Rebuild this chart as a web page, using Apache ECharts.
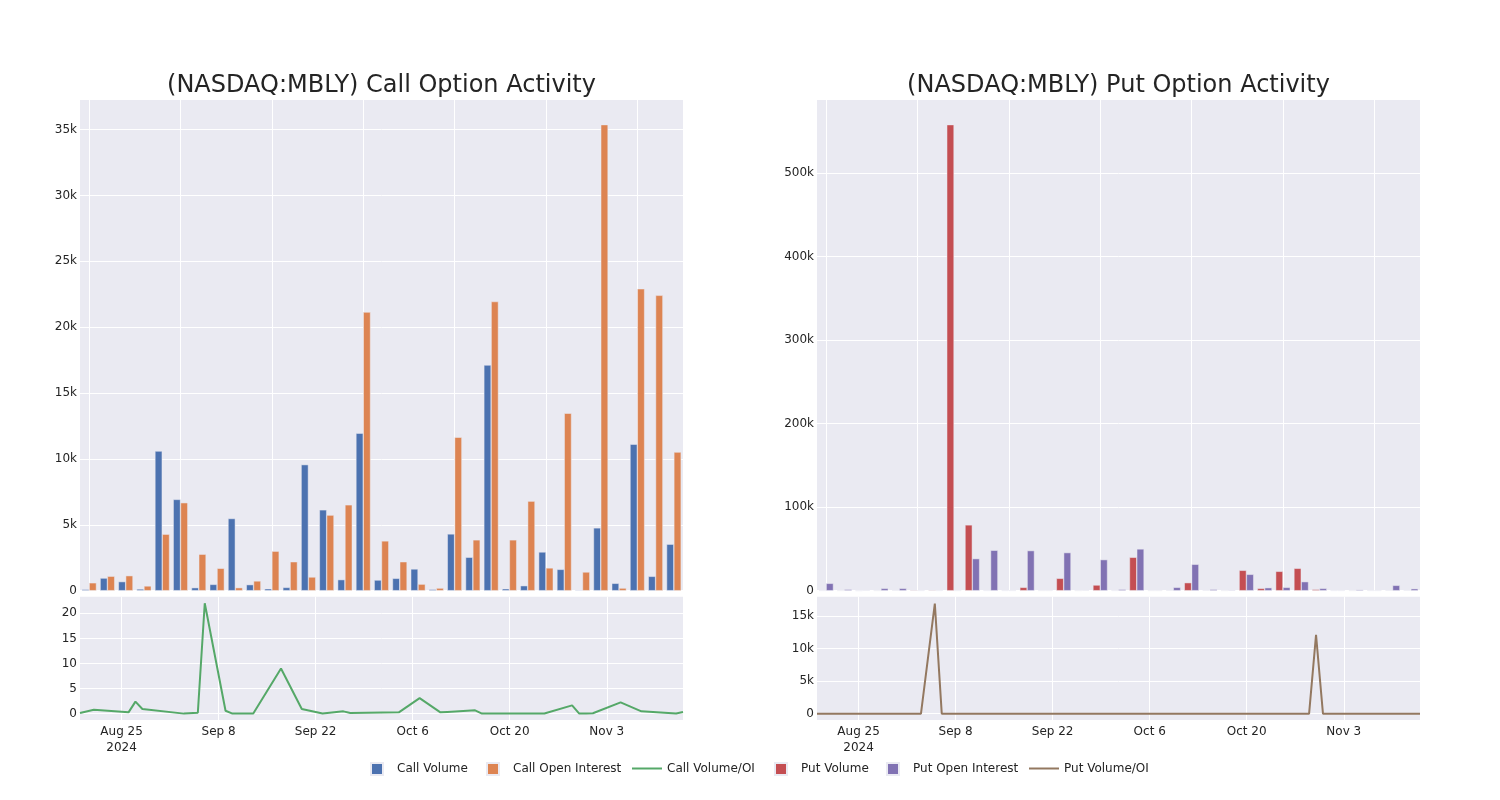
<!DOCTYPE html>
<html><head><meta charset="utf-8">
<script src="https://cdn.jsdelivr.net/npm/echarts@6/dist/echarts.min.js"></script>
<style>html,body{margin:0;padding:0;background:#fff}#c{width:1500px;height:800px}</style>
</head><body><div id="c"></div>
<script>
// ---------- data ----------
const dates = ['2024-08-19','2024-08-21','2024-08-23','2024-08-26','2024-08-27','2024-08-28','2024-09-03','2024-09-05','2024-09-06','2024-09-09','2024-09-10','2024-09-13','2024-09-17','2024-09-20','2024-09-23','2024-09-26','2024-09-27','2024-10-04','2024-10-07','2024-10-10','2024-10-11','2024-10-15','2024-10-16','2024-10-21','2024-10-25','2024-10-29','2024-10-30','2024-10-31','2024-11-01','2024-11-05','2024-11-08','2024-11-13','2024-11-14'];
const callVolume = [100,960,690,130,10600,6930,230,480,5480,460,150,250,9570,6140,840,11960,810,940,1650,100,4310,2540,17130,150,380,2940,1620,50,4770,560,11120,1090,3530];
const callOpenInterest = [600,1100,1140,360,4290,6680,2770,1700,230,740,3000,2200,1040,5740,6520,21150,3780,2200,500,200,11650,3860,21950,3860,6800,1730,13470,1420,35380,200,22920,22420,10520];
const callVolOI = [0.13,0.8,0.6,0.27,2.4,0.93,0.02,0.2,22,0.6,0.03,0.05,9.0,0.93,0.05,0.47,0.13,0.27,3.1,0.27,0.35,0.67,0.02,0.02,0.03,1.66,0.05,0.02,0.1,2.26,0.47,0.03,0.33];
const putVolume = [300,200,100,200,400,800,800,558000,78800,300,300,4000,200,14800,200,6800,300,40000,200,400,9600,400,200,24400,2800,23200,26800,1600,300,200,300,400,400];
const putOpenInterest = [8800,1600,400,2800,2800,300,300,200,38400,48400,300,48000,200,45600,500,37200,1600,50000,200,4000,31600,1600,800,19600,3600,4000,10800,2800,300,1200,300,6400,2400];
const putVolOI = [0.03,0.1,0.3,0.1,0.1,2.7,2.7,16900,2.1,0,1,0.1,1,0.3,0.4,0.2,0.2,0.8,1,0.1,0.3,0.3,0.3,1.2,0.8,5.8,12100,0.6,1,0.2,1,0.1,0.2];
const dateTickValues = ['2024-08-25','2024-09-08','2024-09-22','2024-10-06','2024-10-20','2024-11-03'];
const dateTickLabels = ['Aug 25\n2024','Sep 8','Sep 22','Oct 6','Oct 20','Nov 3'];
const barGridTicks = [0,5,10,15,20,25,30];
const callBarTicks = [0,5000,10000,15000,20000,25000,30000,35000];
const putBarTicks = [0,100000,200000,300000,400000,500000];
const callRatioTicks = [0,5,10,15,20];
const putRatioTicks = [0,5000,10000,15000];

// ---------- styling ----------
const FONT = '"DejaVu Sans", Verdana, sans-serif';
const BG = '#EAEAF2';
const TXT = '#242424';
const C = {cv:'#4C72B0', coi:'#DD8452', cr:'#55A868', pv:'#C44E52', poi:'#8172B3', pr:'#937860'};

function ts(d){ const p = d.split('-').map(Number); return Date.UTC(p[0], p[1]-1, p[2]); }
const times = dates.map(ts);
const tickTimes = dateTickValues.map(ts);
const idx = dates.map((d,i)=>i);
function kfmt(v){ return v === 0 ? '0' : (v/1000) + 'k'; }
function dateFmt(v){
  for (let i=0;i<tickTimes.length;i++){ if (Math.abs(v - tickTimes[i]) < 43200000) return dateTickLabels[i]; }
  return '';
}

const gBar = (left)=>({left:left, top:100, width:603, height:490.7, show:true, backgroundColor:BG, borderWidth:0});
const gLine = (left)=>({left:left, top:596.7, width:603, height:123.3, show:true, backgroundColor:BG, borderWidth:0});
const split = {show:true, lineStyle:{color:'#ffffff', width:1}};
const lbl = {color:TXT, fontFamily:FONT, fontSize:12};

function barX(gi){
  return {type:'value', gridIndex:gi, min:-0.5, max:32.5,
    axisLine:{show:false}, axisTick:{show:false, customValues:barGridTicks},
    axisLabel:{show:false, customValues:barGridTicks}, splitLine:split};
}
function timeX(gi){
  return {type:'value', gridIndex:gi, min:times[0], max:times[times.length-1],
    axisLine:{show:false}, axisTick:{show:false, customValues:tickTimes},
    axisLabel:Object.assign({customValues:tickTimes, formatter:dateFmt, margin:4, lineHeight:16, hideOverlap:false}, lbl),
    splitLine:split};
}
function valY(gi, min, max, ticks, fmt){
  return {type:'value', gridIndex:gi, min:min, max:max,
    axisLine:{show:false}, axisTick:{show:false, customValues:ticks},
    axisLabel:Object.assign({customValues:ticks, formatter:fmt, margin:3}, lbl),
    splitLine:split};
}
function barSeries(name, vals, color, xi, yi){
  return {name:name, type:'bar', xAxisIndex:xi, yAxisIndex:yi, barWidth:7.3, barGap:'0%',
    data: idx.map(i=>[i, vals[i]]),
    itemStyle:{color:color, borderColor:BG, borderWidth:0.5}};
}
function lineSeries(name, vals, color, xi, yi){
  return {name:name, type:'line', xAxisIndex:xi, yAxisIndex:yi, symbol:'none', showSymbol:false,
    data: idx.map(i=>[times[i], vals[i]]),
    lineStyle:{color:color, width:2}, itemStyle:{color:color}};
}
function legend(name, left, isBar){
  const item = isBar ? {name:name, icon:'rect'} : {name:name, itemStyle:{opacity:0}};
  return {data:[item], left:left, top: isBar ? 762 : 762.5, padding:0,
    itemWidth: isBar ? 12 : 30, itemHeight:12,
    textStyle:{color:TXT, fontFamily:FONT, fontSize:12, padding: isBar ? [0,0,0,9] : [1,0,0,0]}};
}

const option = {
  animation:false,
  backgroundColor:'#ffffff',
  title:[
    {text:'(NASDAQ:MBLY) Call Option Activity', left:381.5, top:86, padding:0, textAlign:'center', textVerticalAlign:'middle',
     textStyle:{color:TXT, fontFamily:FONT, fontSize:24, fontWeight:'normal'}},
    {text:'(NASDAQ:MBLY) Put Option Activity', left:1118.5, top:86, padding:0, textAlign:'center', textVerticalAlign:'middle',
     textStyle:{color:TXT, fontFamily:FONT, fontSize:24, fontWeight:'normal'}}
  ],
  legend:[
    legend('Call Volume', 370, true),
    legend('Call Open Interest', 486, true),
    legend('Call Volume/OI', 631, false),
    legend('Put Volume', 774, true),
    legend('Put Open Interest', 886, true),
    legend('Put Volume/OI', 1028, false)
  ],
  grid:[gBar(80), gLine(80), gBar(817), gLine(817)],
  xAxis:[barX(0), timeX(1), barX(2), timeX(3)],
  yAxis:[
    valY(0, 0, 37250, callBarTicks, kfmt),
    valY(1, -1.25, 23.3, callRatioTicks, v=>String(v)),
    valY(2, 0, 587500, putBarTicks, kfmt),
    valY(3, -970, 17970, putRatioTicks, kfmt)
  ],
  series:[
    barSeries('Call Volume', callVolume, C.cv, 0, 0),
    barSeries('Call Open Interest', callOpenInterest, C.coi, 0, 0),
    lineSeries('Call Volume/OI', callVolOI, C.cr, 1, 1),
    barSeries('Put Volume', putVolume, C.pv, 2, 2),
    barSeries('Put Open Interest', putOpenInterest, C.poi, 2, 2),
    lineSeries('Put Volume/OI', putVolOI, C.pr, 3, 3)
  ]
};
const chart = echarts.init(document.getElementById('c'), null, {renderer:'canvas'});
chart.setOption(option);
</script>
</body></html>
